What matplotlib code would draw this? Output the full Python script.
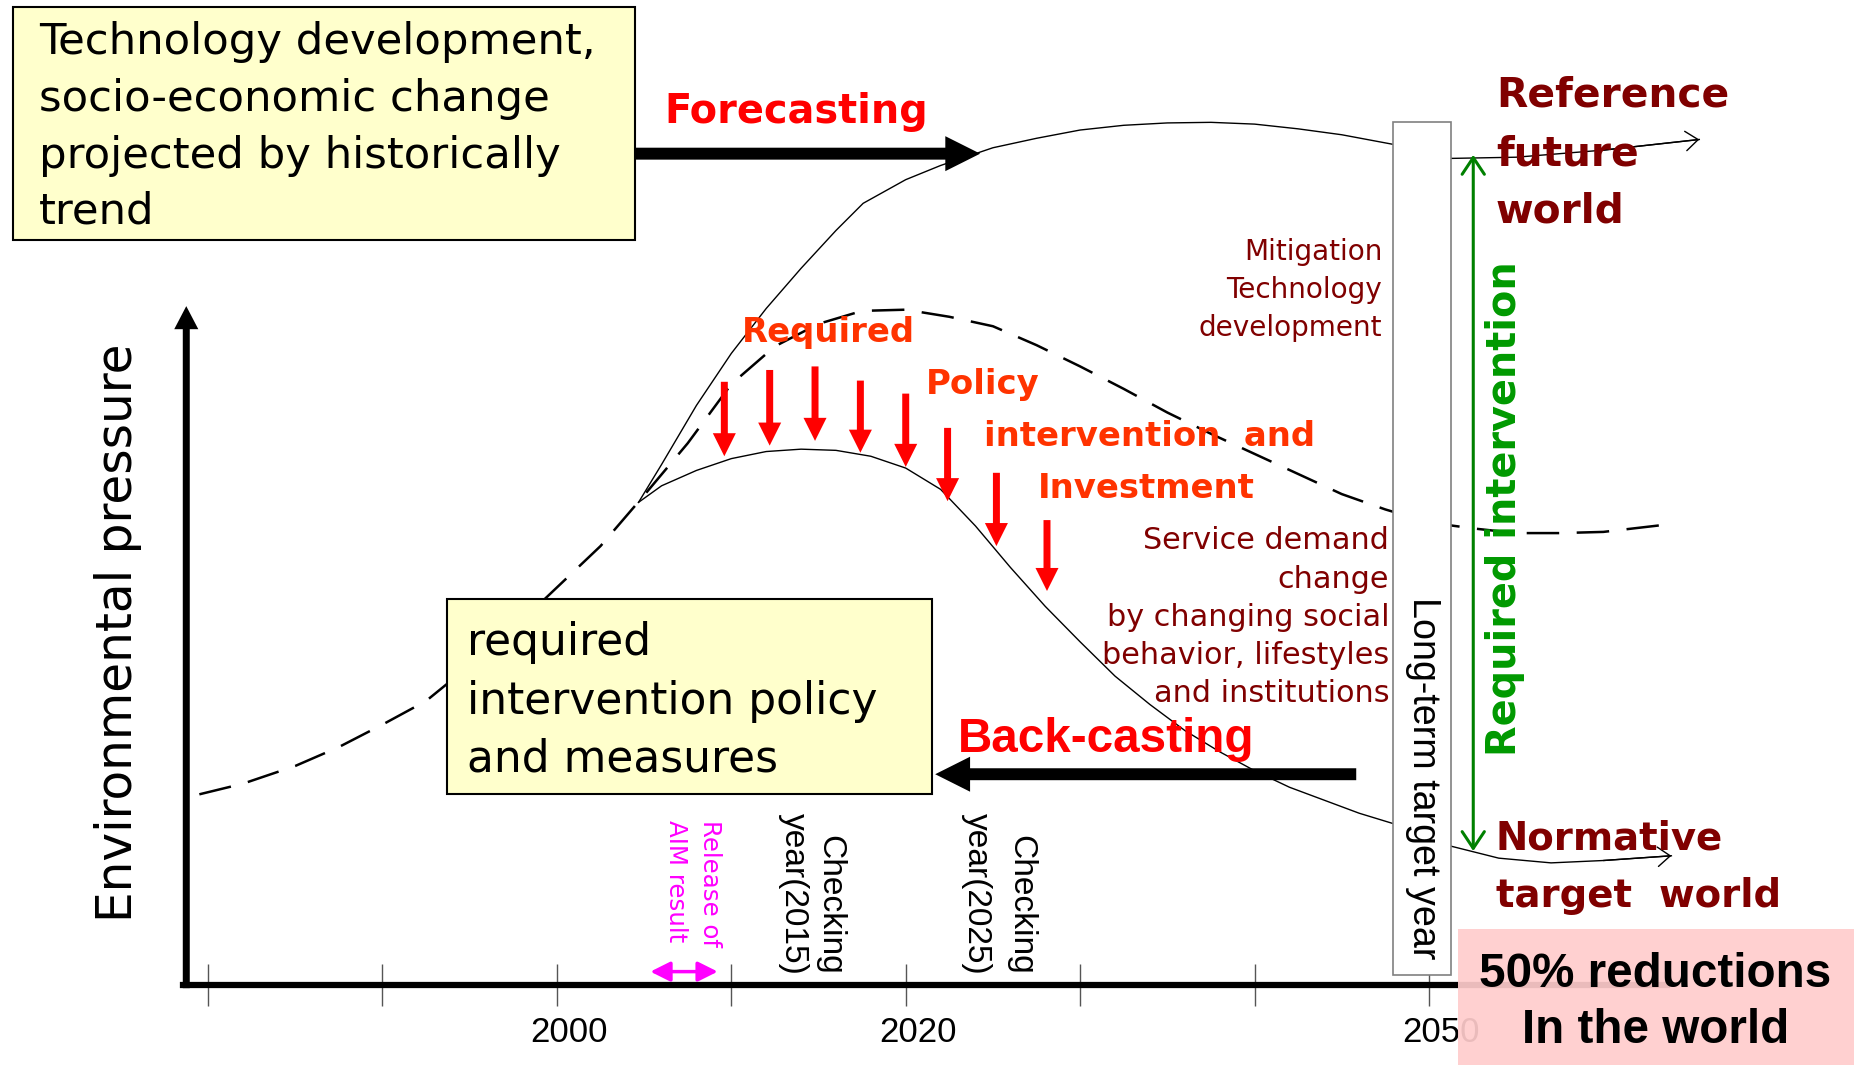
import matplotlib
matplotlib.use('Agg')
import matplotlib.pyplot as plt
from matplotlib.patches import Rectangle
from matplotlib.transforms import ScaledTranslation

# ---------------- data (years, environmental pressure in arbitrary units) ----------------
tick_years = [1980, 1990, 2000, 2010, 2020, 2030, 2040, 2050]
tick_labels = ['', '', '2000', '', '2020', '', '', '2050']

trend_years = [1979.5, 1982, 1985, 1987.5, 1990, 1992.5, 1995, 1997.5, 2000, 2002.5, 2005, 2007.5,
               2010, 2012.5, 2015, 2017.5, 2020, 2022.5, 2025, 2027.5, 2030, 2032.5, 2035, 2037.5,
               2040, 2042.5, 2045, 2047.5, 2050, 2052.5, 2055, 2057.5, 2060, 2063.5]
trend_pressure = [1.61, 1.70, 1.85, 2.01, 2.20, 2.40, 2.70, 3.01, 3.36, 3.71, 4.14, 4.58,
                  5.08, 5.40, 5.59, 5.70, 5.71, 5.65, 5.57, 5.41, 5.23, 5.04, 4.84, 4.66,
                  4.49, 4.32, 4.15, 4.02, 3.91, 3.86, 3.82, 3.82, 3.83, 3.89]

ref_years = [2004.68, 2006, 2008, 2010, 2012, 2014, 2016, 2017.56, 2020, 2022, 2025, 2027.5,
             2030, 2032.5, 2035, 2037.5, 2040, 2042.5, 2045, 2047.9, 2051.3, 2055, 2060, 2065.5]
ref_pressure = [4.08, 4.40, 4.90, 5.34, 5.72, 6.06, 6.38, 6.61, 6.81, 6.93, 7.08, 7.16,
                7.23, 7.27, 7.29, 7.295, 7.28, 7.24, 7.19, 7.11, 6.99, 7.00, 7.06, 7.15]

norm_years = [2004.68, 2006, 2008, 2010, 2012, 2014, 2016, 2018, 2020, 2022, 2024, 2026, 2028,
              2030, 2032, 2034, 2036, 2038, 2040, 2042, 2044, 2046, 2048, 2051.3, 2054, 2057,
              2060, 2063.9]
norm_pressure = [4.08, 4.22, 4.35, 4.45, 4.51, 4.53, 4.52, 4.47, 4.37, 4.19, 3.88, 3.53, 3.20,
                 2.90, 2.61, 2.37, 2.15, 1.97, 1.81, 1.67, 1.56, 1.45, 1.36, 1.17, 1.07, 1.03,
                 1.05, 1.09]

policy_years = [2009.6, 2012.2, 2014.8, 2017.4, 2020.0, 2022.4, 2025.2, 2028.1]
policy_from = [5.10, 5.20, 5.23, 5.11, 5.00, 4.71, 4.33, 3.93]
policy_to = [4.47, 4.56, 4.60, 4.50, 4.38, 4.09, 3.71, 3.33]

forecast_from, forecast_to, forecast_level = 2004.47, 2024.27, 7.03
backcast_from, backcast_to, backcast_level = 2045.83, 2021.69, 1.78
target_year_box = (2047.93, 2051.25)
intervention_year, intervention_top, intervention_bottom = 2052.54, 7.02, 1.13
aim_release = (2005.36, 2009.22)

# ---------------- styles ----------------
COMIC = ['DejaVu Sans']
ARIAL = ['Liberation Sans', 'DejaVu Sans']
DARKRED = '#800000'
RED = '#FF0000'
ORANGERED = '#FF3300'
GREEN = '#009900'
MAGENTA = '#FF00FF'
YELLOW = '#FFFFCC'

fig = plt.figure(figsize=(18.54, 10.65), dpi=100)
ax = fig.add_axes([0, 0, 1, 1])
ax.set_xlim(1968.07, 2074.37)
ax.set_ylim(-0.68, 8.33)
for s in ['top', 'right', 'left']:
    ax.spines[s].set_visible(False)
ax.spines['bottom'].set_position(('data', 0))
ax.spines['bottom'].set_bounds(1978.55, 2063.66)
ax.spines['bottom'].set_linewidth(4.5)
ax.set_yticks([])
ax.set_xticks(tick_years)
ax.set_xticklabels(tick_labels, fontsize=25, family=ARIAL)
ax.tick_params(axis='x', direction='inout', length=30.7, width=1.0, color='#555555', pad=7)
shift = ScaledTranslation(0.12, 0, fig.dpi_scale_trans)
for lab in ax.get_xticklabels():
    lab.set_transform(lab.get_transform() + shift)

# y axis arrow
ax.arrow(1978.75, -0.03, 0, 5.77, width=0.40, head_width=1.38, head_length=0.195,
         length_includes_head=True, fc='black', ec='none', zorder=3)

# curves
ax.plot(trend_years, trend_pressure, color='black', lw=1.8, ls=(0, (13, 7)), zorder=2)
ax.plot(ref_years, ref_pressure, color='black', lw=1.0, zorder=2)
ax.plot(norm_years, norm_pressure, color='black', lw=1.0, zorder=2)
for xs, ys in [(ref_years, ref_pressure), (norm_years, norm_pressure)]:
    ax.annotate('', xy=(xs[-1], ys[-1]), xytext=(xs[-2], ys[-2]),
                arrowprops=dict(arrowstyle='->,head_length=0.45,head_width=0.35', lw=1.0,
                                color='black', mutation_scale=20, shrinkA=0, shrinkB=0),
                zorder=2)

# boxes
ax.add_patch(Rectangle((1968.81, 6.30), 2004.47 - 1968.81, 8.27 - 6.30, fc=YELLOW, ec='black',
                       lw=1.5, zorder=4))
ax.add_patch(Rectangle((1993.69, 1.61), 2021.49 - 1993.69, 3.26 - 1.61, fc=YELLOW, ec='black',
                       lw=1.5, zorder=4))
ax.add_patch(Rectangle((target_year_box[0], 0.08), target_year_box[1] - target_year_box[0], 7.22,
                       fc='white', ec='#808080', lw=1.2, zorder=5))
ax.add_patch(Rectangle((2051.66, -0.68), 2074.37 - 2051.66, 0.68 + 0.47, fc='#FFCCCC', ec='none',
                       alpha=0.92, zorder=10))

# thick black arrows
ax.arrow(forecast_from, forecast_level, forecast_to - forecast_from, 0, width=0.101,
         head_width=0.296, head_length=2.0, length_includes_head=True, fc='black', ec='none',
         zorder=5)
ax.arrow(backcast_from, backcast_level, backcast_to - backcast_from, 0, width=0.101,
         head_width=0.296, head_length=2.0, length_includes_head=True, fc='black', ec='none',
         zorder=5)

# red policy arrows
for x, y0, y1 in zip(policy_years, policy_from, policy_to):
    ax.arrow(x, y0, 0, y1 - y0, width=0.40, head_width=1.32, head_length=0.195,
             length_includes_head=True, fc=RED, ec='none', zorder=5)

# green double arrow
ax.annotate('', xy=(intervention_year, intervention_top),
            xytext=(intervention_year, intervention_bottom),
            arrowprops=dict(arrowstyle='<->,head_length=0.6,head_width=0.4', lw=2.2,
                            color='#008000', mutation_scale=20, shrinkA=0, shrinkB=0), zorder=6)
# magenta double arrow
ax.annotate('', xy=(aim_release[1], 0.11), xytext=(aim_release[0], 0.11),
            arrowprops=dict(arrowstyle='<|-|>,head_length=0.6,head_width=0.3', lw=2.5,
                            color=MAGENTA, mutation_scale=20, shrinkA=0, shrinkB=0), zorder=6)

# ---------------- texts ----------------
def T(x, y, s, family=COMIC, **kw):
    kw.setdefault('va', 'center_baseline')
    kw.setdefault('fontsize', 20)
    return ax.text(x, y, s, family=family, zorder=7, **kw)

renderer = fig.canvas.get_renderer()

def fit(texts, target_px, vertical=False):
    ext = 0
    for t in texts:
        bb = t.get_window_extent(renderer)
        ext = max(ext, bb.height if vertical else bb.width)
    k = target_px / ext
    for t in texts:
        t.set_fontsize(t.get_fontsize() * k)

tl = [T(1970.31, y, s, ha='left') for s, y in zip(
    ["Technology development,", "socio-economic change", "projected by historically", "trend"],
    [8.01, 7.53, 7.05, 6.58])]
fit(tl, 555)

fc = T(2006.17, 7.42, "Forecasting", ha='left', color=RED, fontweight='bold')
fit([fc], 264)

pol = [T(2010.58, 5.55, "Required", ha='left', color=ORANGERED, fontweight='bold'),
       T(2021.15, 5.11, "Policy", ha='left', color=ORANGERED, fontweight='bold'),
       T(2024.47, 4.67, "intervention  and", ha='left', color=ORANGERED, fontweight='bold'),
       T(2027.59, 4.23, "Investment", ha='left', color=ORANGERED, fontweight='bold')]
fit([pol[2]], 331)
for t in pol:
    t.set_fontsize(pol[2].get_fontsize())

ref = [T(2053.83, y, s, ha='left', color=DARKRED, fontweight='bold')
       for s, y in zip(["Reference", "future", "world"], [7.56, 7.06, 6.58])]
fit([ref[0]], 233)
for t in ref:
    t.set_fontsize(ref[0].get_fontsize())

nrm = [T(2053.83, y, s, ha='left', color=DARKRED, fontweight='bold')
       for s, y in zip(["Normative", "target  world"], [1.27, 0.78])]
fit([nrm[1]], 285)
for t in nrm:
    t.set_fontsize(nrm[1].get_fontsize())

mit = [T(2047.32, y, s, ha='right', color=DARKRED)
       for s, y in zip(["Mitigation", "Technology", "development"], [6.22, 5.90, 5.58])]
fit(mit, 184)

svc = [T(2047.73, y, s, ha='right', color=DARKRED)
       for s, y in zip(["Service demand", "change", "by changing social",
                        "behavior, lifestyles", "and institutions"],
                       [3.78, 3.45, 3.13, 2.81, 2.49])]
fit(svc, 286)

bb_txt = [T(1994.85, y, s, ha='left')
          for s, y in zip(["required", "intervention policy", "and measures"], [2.93, 2.43, 1.95])]
fit(bb_txt, 410)

bc = T(2022.98, 2.12, "Back-casting", family=ARIAL, ha='left', color=RED, fontweight='bold')
fit([bc], 296)

red50 = [T(2062.98, y, s, family=ARIAL, ha='center', fontweight='bold')
         for s, y in zip(["50% reductions", "In the world"], [0.13, -0.35])]
for t in red50:
    t.set_zorder(11)
fit(red50, 352)

env = T(1974.85, 0.53, "Environmental pressure", ha='center', va='bottom', rotation=90)
fit([env], 579, vertical=True)

lt = T(2049.63, 3.28, "Long-term target year", family=ARIAL, ha='center', va='top', rotation=270)
fit([lt], 361, vertical=True)

ri = T(2054.37, 1.93, "Required intervention", ha='center', va='bottom', rotation=90,
       color=GREEN, fontweight='bold')
fit([ri], 494, vertical=True)

chk = [T(2015.66, 0.08, "Checking", family=ARIAL, ha='center', va='bottom', rotation=270),
       T(2013.56, 0.08, "year(2015)", family=ARIAL, ha='center', va='bottom', rotation=270),
       T(2026.58, 0.08, "Checking", family=ARIAL, ha='center', va='bottom', rotation=270),
       T(2024.07, 0.08, "year(2025)", family=ARIAL, ha='center', va='bottom', rotation=270)]
fit(chk, 162, vertical=True)

aim = [T(2008.75, 1.39, "Release of", ha='center', va='top', rotation=270, color=MAGENTA),
       T(2006.85, 1.39, "AIM result", ha='center', va='top', rotation=270, color=MAGENTA)]
fit([aim[0]], 127, vertical=True)
aim[1].set_fontsize(aim[0].get_fontsize())

fig.savefig('out.png', dpi=100)
